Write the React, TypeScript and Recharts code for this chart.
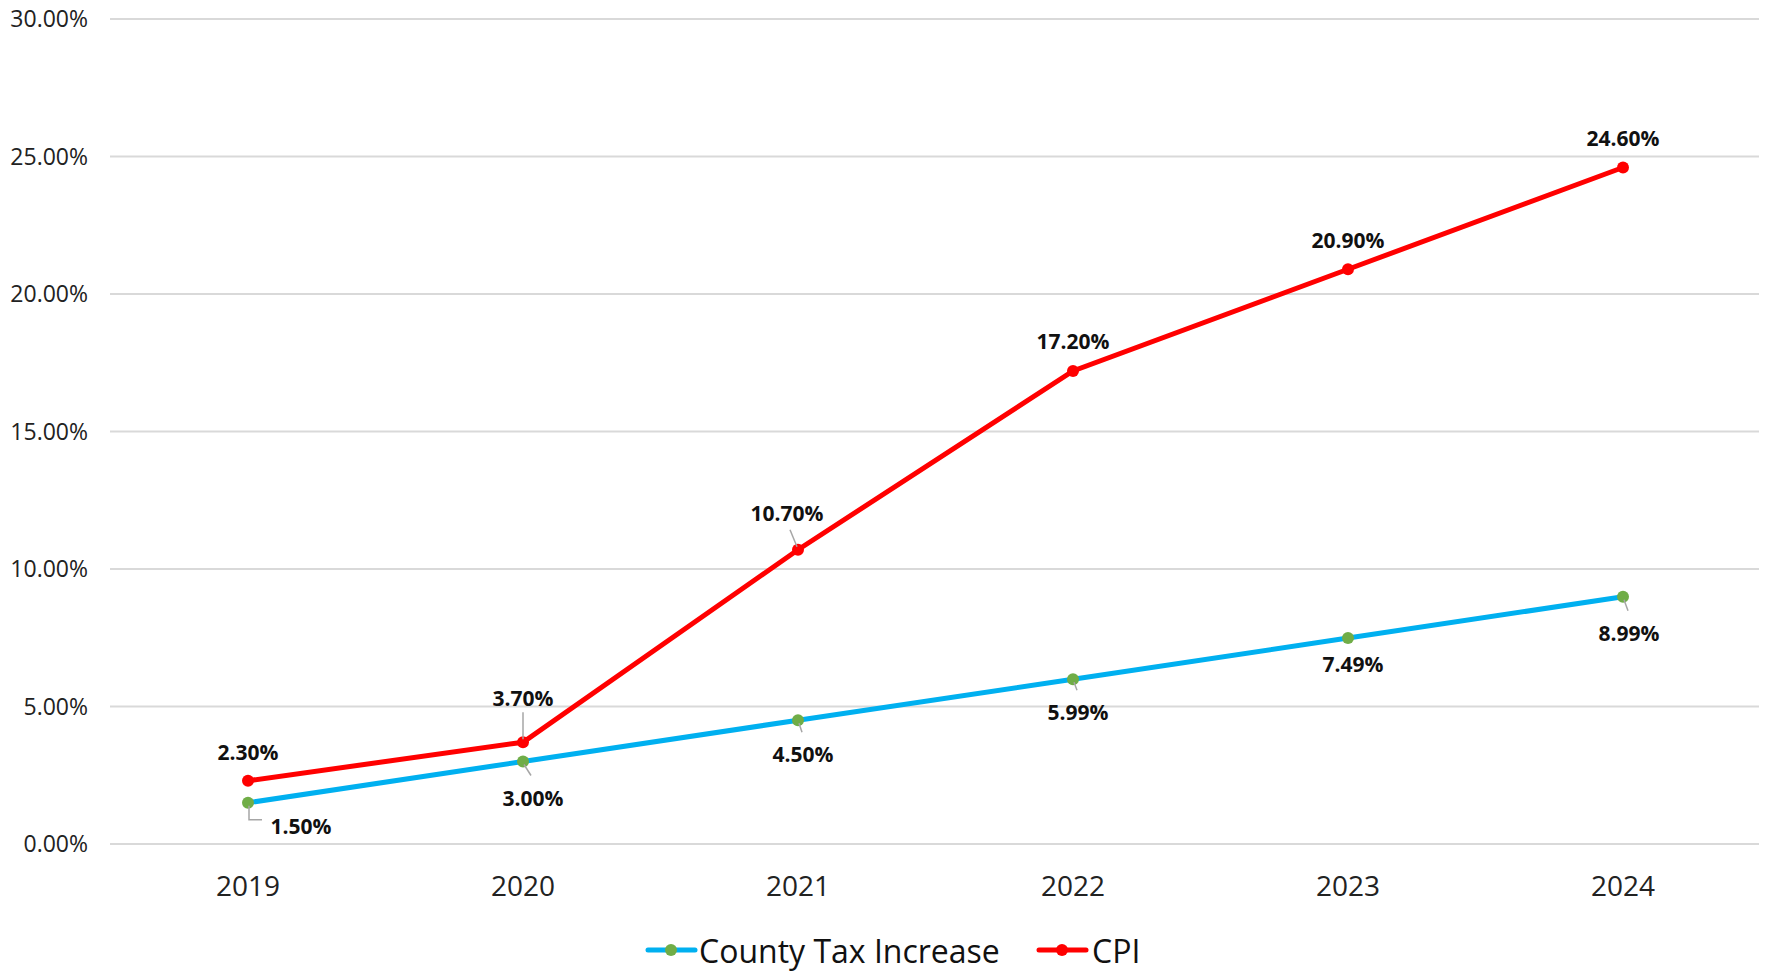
import React from 'react';
import { LineChart, Line, XAxis, YAxis, CartesianGrid, Legend } from 'recharts';

const years = ['2019', '2020', '2021', '2022', '2023', '2024'];
const countyTax = [1.5, 3.0, 4.5, 5.99, 7.49, 8.99];
const cpi = [2.3, 3.7, 10.7, 17.2, 20.9, 24.6];
const yTicks = [0, 5, 10, 15, 20, 25, 30];

const data = years.map((y, i) => ({ year: y, county: countyTax[i], cpi: cpi[i] }));

// label placement relative to the point: [dx, dy, leaderX, leaderY] (leader end, 0 = none)
const cpiLabelPos = [
  [0, -29, 0, 0],
  [0, -44, 0, -30],
  [-11, -37, -8, -20],
  [0, -30, 0, 0],
  [0, -29, 0, 0],
  [0, -30, 0, 0],
];
const countyLabelPos = [
  [53, 23, 14, 17],
  [10, 36, 8, 14],
  [5, 34, 4, 12],
  [5, 33, 4, 11],
  [5, 26, 0, 0],
  [6, 36, 5, 14],
];

const FONT = '"Open Sans", sans-serif';

const makeLabel = (pos: number[][], elbow: boolean) => (props: any) => {
  const { x, y, value, index } = props;
  const [dx, dy, lx, ly] = pos[index];
  let leader = null;
  if (lx !== 0 || ly !== 0) {
    if (elbow && index === 0) {
      leader = (
        <polyline
          points={`${x + 1},${y + 3} ${x + 1},${y + ly} ${x + lx},${y + ly}`}
          fill="none"
          stroke="#A6A6A6"
          strokeWidth={1.5}
        />
      );
    } else {
      leader = (
        <line
          x1={x + (lx > 0 ? 1 : lx < 0 ? -1 : 0)}
          y1={y + (ly > 0 ? 3 : -3)}
          x2={x + lx}
          y2={y + ly}
          stroke="#A6A6A6"
          strokeWidth={1.5}
        />
      );
    }
  }
  return (
    <g>
      {leader}
      <text
        x={x + dx}
        y={y + dy}
        textAnchor="middle"
        dominantBaseline="central"
        fontFamily={FONT}
        fontWeight={700}
        fontSize={21}
        fill="#111"
      >
        {Number(value).toFixed(2)}%
      </text>
    </g>
  );
};

function LegendContent() {
  return (
    <svg width={1768} height={44}>
      <g fontFamily={FONT} fontSize={32} fill="#111">
        <line x1={648} y1={22} x2={695} y2={22} stroke="#00B0F0" strokeWidth={5} strokeLinecap="round" />
        <circle cx={671} cy={22} r={6} fill="#70AD47" />
        <text x={699} y={22} dominantBaseline="central">County Tax Increase</text>
        <line x1={1039} y1={22} x2={1086} y2={22} stroke="#FF0000" strokeWidth={5} strokeLinecap="round" />
        <circle cx={1062} cy={22} r={6} fill="#FF0000" />
        <text x={1092} y={22} dominantBaseline="central">CPI</text>
      </g>
    </svg>
  );
}

export default function App() {
  return (
    <div style={{ position: 'absolute', left: 0, top: 0, background: '#fff' }}>
      <LineChart
        width={1768}
        height={973}
        data={data}
        margin={{ top: 19, right: 9, left: 0, bottom: 69 }}
      >
        <CartesianGrid vertical={false} stroke="#D9D9D9" strokeWidth={2} />
        <XAxis
          dataKey="year"
          padding={{ left: 138, right: 136 }}
          axisLine={false}
          tickLine={false}
          tickSize={0}
          tickMargin={32}
          height={60}
          tick={{ fontFamily: FONT, fontSize: 28, fill: '#222' }}
        />
        <YAxis
          width={110}
          domain={[0, 30]}
          ticks={yTicks}
          axisLine={false}
          tickLine={false}
          tickSize={0}
          tickMargin={22}
          tickFormatter={(v: number) => `${v.toFixed(2)}%`}
          tick={{ fontFamily: FONT, fontSize: 23, fill: '#222' }}
        />
        <Legend
          verticalAlign="middle"
          align="center"
          wrapperStyle={{ top: 928, left: 0, width: 1768 }}
          content={() => <LegendContent />}
        />
        <Line
          dataKey="county"
          name="County Tax Increase"
          stroke="#00B0F0"
          strokeWidth={5}
          dot={{ r: 6, fill: '#70AD47', stroke: 'none' }}
          activeDot={false}
          isAnimationActive={false}
          label={makeLabel(countyLabelPos, true)}
        />
        <Line
          dataKey="cpi"
          name="CPI"
          stroke="#FF0000"
          strokeWidth={5}
          dot={{ r: 6, fill: '#FF0000', stroke: 'none' }}
          activeDot={false}
          isAnimationActive={false}
          label={makeLabel(cpiLabelPos, false)}
        />
      </LineChart>
    </div>
  );
}
